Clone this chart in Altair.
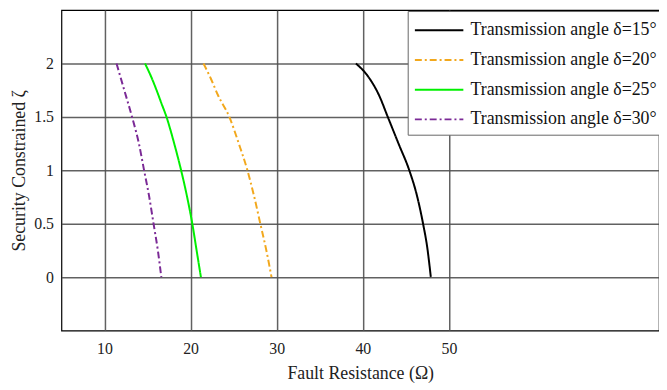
import altair as alt
import pandas as pd

labels = [
    "Transmission angle δ=15°",
    "Transmission angle δ=20°",
    "Transmission angle δ=25°",
    "Transmission angle δ=30°",
]
colors = ["#000000", "#F2A81D", "#00F000", "#7B2A96"]
dashes = [[1, 0], [7, 3, 2, 3], [1, 0], [7, 3, 2, 3]]

x15 = [39.2, 40.6, 41.9, 42.9, 44.2, 45.4, 46.3, 47.0, 47.5, 47.9]
y15 = [2.0, 1.88, 1.7, 1.5, 1.24, 1.0, 0.76, 0.5, 0.27, 0.0]
x20 = [21.5, 22.4, 23.2, 24.5, 25.6, 26.6, 27.4, 28.1, 28.8, 29.4]
y20 = [2.0, 1.85, 1.7, 1.5, 1.25, 1.0, 0.75, 0.5, 0.25, 0.0]
x25 = [14.7, 15.4, 16.05, 16.6, 17.2, 18.1, 18.9, 19.6, 20.2, 20.7, 21.2]
y25 = [2.0, 1.88, 1.75, 1.63, 1.5, 1.25, 1.0, 0.75, 0.5, 0.25, 0.0]
x30 = [11.4, 12.3, 13.2, 14.0, 14.6, 15.2, 15.7, 16.2, 16.6]
y30 = [2.0, 1.75, 1.5, 1.25, 1.0, 0.75, 0.5, 0.25, 0.0]

rows = []
for lab, xs, ys in zip(labels, [x15, x20, x25, x30], [y15, y20, y25, y30]):
    for i, (xv, yv) in enumerate(zip(xs, ys)):
        rows.append({"series": lab, "x": xv, "y": yv, "idx": i})
df = pd.DataFrame(rows)

FONT = "Liberation Serif"

chart = alt.Chart(df).mark_line(strokeWidth=2, clip=True, interpolate="monotone").encode(
    x=alt.X("x:Q", scale=alt.Scale(domain=[5, 74.4], nice=False, zero=False),
            axis=alt.Axis(values=[10, 20, 30, 40, 50], title="Fault Resistance (Ω)",
                          grid=True, ticks=False, domain=False, labelPadding=10,
                          titlePadding=8)),
    y=alt.Y("y:Q", scale=alt.Scale(domain=[-0.5, 2.5], nice=False, zero=False),
            axis=alt.Axis(values=[0, 0.5, 1, 1.5, 2], title="Security Constrained ζ",
                          format="~g", grid=True, ticks=False, domain=False,
                          labelPadding=8, titlePadding=5)),
    color=alt.Color("series:N", scale=alt.Scale(domain=labels, range=colors),
                    legend=alt.Legend(title=None, orient="none", legendX=350, legendY=1,
                                      symbolType="M-1,0H3", symbolSize=600,
                                      symbolStrokeWidth=2, labelFont=FONT,
                                      labelFontSize=18, labelColor="#111",
                                      strokeColor="#666", fillColor="white",
                                      padding=6, rowPadding=7, labelOffset=30.5,
                                      labelLimit=400)),
    strokeDash=alt.StrokeDash("series:N", scale=alt.Scale(domain=labels, range=dashes),
                              legend=None),
    order=alt.Order("idx:Q"),
).properties(
    width=604, height=324,
    padding={"left": 54, "top": 0, "right": 0, "bottom": 60},
    autosize=alt.AutoSizeParams(type="none"),
).configure(
    font=FONT,
).configure_view(
    stroke="black", strokeWidth=1.2,
).configure_axis(
    labelFont=FONT, titleFont=FONT, labelFontSize=16, titleFontSize=18,
    labelColor="#222", titleColor="#222", titleFontWeight="normal",
    gridColor="#505050", gridWidth=1.5, gridOpacity=0.9,
)

chart.save("out.html", embed_options={"renderer": "svg", "actions": False})
